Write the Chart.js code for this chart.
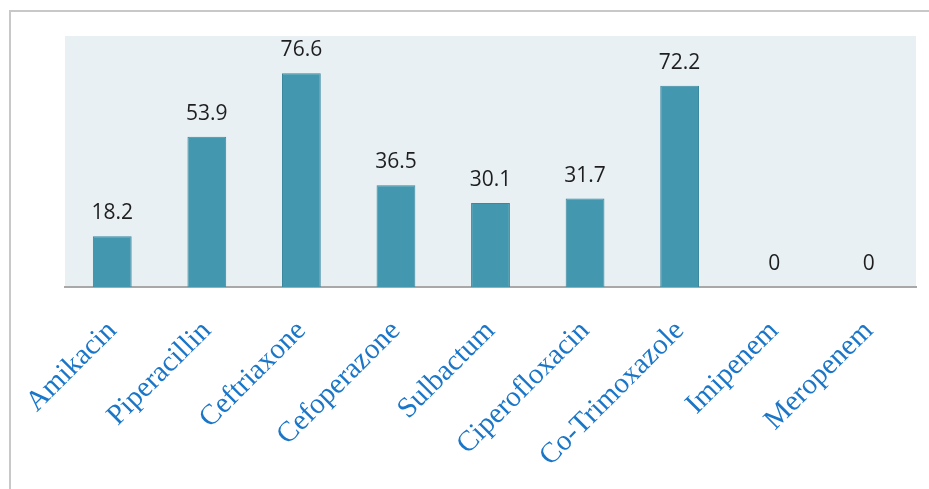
<!DOCTYPE html>
<html>
<head>
<meta charset="utf-8">
<script src="https://cdn.jsdelivr.net/npm/chart.js@4/dist/chart.umd.min.js"></script>
<style>
  html, body { margin: 0; padding: 0; background: #fff; }
  #wrap { width: 929px; height: 489px; position: relative; }
</style>
</head>
<body>
<div id="wrap"><canvas id="grafico"></canvas></div>
<script>
// dados do grafico
const antibioticos = ['Amikacin', 'Piperacillin', 'Ceftriaxone', 'Cefoperazone', 'Sulbactum',
  'Ciperofloxacin', 'Co-Trimoxazole', 'Imipenem', 'Meropenem'];
const resistencia = [18.2, 53.9, 76.6, 36.5, 30.1, 31.7, 72.2, 0, 0];
const eixoY = { min: 0, max: 90 };

// moldura cinza + fundo da area do grafico
const fundoPlugin = {
  id: 'fundo',
  beforeDraw(chart) {
    const { ctx, chartArea: a } = chart;
    ctx.save();
    ctx.strokeStyle = '#c8c8c8';
    ctx.lineWidth = 2;
    ctx.beginPath();
    ctx.moveTo(10, 489);
    ctx.lineTo(10, 11);
    ctx.lineTo(929, 11);
    ctx.stroke();
    ctx.fillStyle = '#e8f0f4';
    ctx.fillRect(a.left, a.top, a.right - a.left, a.bottom - a.top);
    ctx.restore();
  }
};

// rotulos de valor acima das barras
const valoresPlugin = {
  id: 'valores',
  afterDatasetsDraw(chart) {
    const { ctx } = chart;
    const meta = chart.getDatasetMeta(0);
    ctx.save();
    ctx.font = '21px "Open Sans"';
    ctx.fillStyle = '#1e1e1e';
    ctx.textAlign = 'center';
    ctx.textBaseline = 'alphabetic';
    meta.data.forEach((bar, i) => {
      ctx.fillText(String(resistencia[i]), bar.x, bar.y - 17);
    });
    ctx.restore();
  }
};

const ctx = document.getElementById('grafico').getContext('2d');
new Chart(ctx, {
  type: 'bar',
  data: {
    labels: antibioticos,
    datasets: [{
      data: resistencia,
      backgroundColor: '#4397ae',
      borderColor: '#3b889e',
      borderWidth: 1,
      categoryPercentage: 1,
      barPercentage: 0.41
    }]
  },
  options: {
    responsive: true,
    maintainAspectRatio: false,
    animation: false,
    layout: { padding: { left: 65, top: 36, right: 13, bottom: 0 } },
    plugins: { legend: { display: false }, tooltip: { enabled: false } },
    scales: {
      x: {
        grid: { display: false },
        border: { display: true, color: '#a8a8a8', width: 2 },
        ticks: {
          minRotation: 45,
          maxRotation: 45,
          padding: 19,
          color: '#1a76c8',
          font: { family: '"Liberation Serif"', size: 29 }
        },
        afterFit(scale) { scale.height = 202; }
      },
      y: {
        display: false,
        min: eixoY.min,
        max: eixoY.max
      }
    }
  },
  plugins: [fundoPlugin, valoresPlugin]
});
</script>
</body>
</html>
